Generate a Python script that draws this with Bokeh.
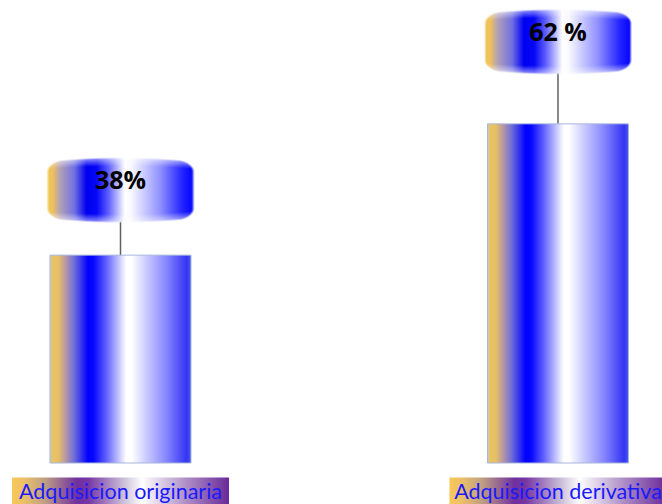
import numpy as np
from bokeh.plotting import figure
from bokeh.models import Range1d
from bokeh.embed import file_html
from bokeh.resources import INLINE
from bokeh.core.properties import value

# ---- data ----
categories = ["Adquisicion originaria", "Adquisicion derivativa"]
shares = [38, 62]
share_labels = ["38%", "62 %"]

# ---- layout (pixels) ----
W, H = 662, 504
X_STEP = 437.5          # px between category centres
X_FIRST = 120.0         # px of first category centre
BASE_PX = 462.5         # px of the zero line from the top
Y_SCALE = 5.47          # px per percentage point
BAR_PX = 141
BUBBLE_W_PX, BUBBLE_H_PX = 148, 66
BUBBLE_LIFT_PX = [32, 49]
LABEL_W_PX, LABEL_TOP_PX = 217, 477


def dx(n):
    return n / X_STEP


def dy(n):
    return n / Y_SCALE


def hex_rgb(h):
    h = h.lstrip("#")
    return [int(h[i:i + 2], 16) for i in (0, 2, 4)]


def gradient(stops, n):
    pos = (np.arange(n) + 0.5) / n
    sp = [s[0] for s in stops]
    cols = np.array([hex_rgb(s[1]) for s in stops], dtype=float)
    return np.stack([np.interp(pos, sp, cols[:, c]) for c in range(3)], axis=1)


def to_rgba(rgb, alpha):
    rows, cols = alpha.shape
    img = np.empty((rows, cols), dtype=np.uint32)
    view = img.view(dtype=np.uint8).reshape((rows, cols, 4))
    view[:, :, :3] = np.clip(rgb, 0, 255).astype(np.uint8)
    view[:, :, 3] = np.clip(alpha * 255, 0, 255).astype(np.uint8)
    return img


bar_stops = [(0.0, "#c8c8c8"), (0.02, "#ecc45c"), (0.06, "#e6c068"),
             (0.11, "#b898a4"), (0.17, "#7070d8"), (0.27, "#0000ff"),
             (0.31, "#0808ff"), (0.40, "#6262ff"), (0.54, "#ffffff"),
             (0.58, "#ffffff"), (0.69, "#c8c8ff"), (0.83, "#8484ff"),
             (0.97, "#3434f4"), (1.0, "#4a5cf0")]

bubble_stops = [(0.0, "#f2c24e"), (0.04, "#f0c25a"), (0.09, "#b4a2b4"),
                (0.19, "#7070e4"), (0.27, "#0000f2"), (0.34, "#0808f8"),
                (0.42, "#6262ff"), (0.53, "#ffffff"), (0.57, "#fafaff"),
                (0.65, "#d0d0ff"), (0.77, "#9090ff"), (0.92, "#2222ff"),
                (1.0, "#0000ff")]

label_stops = [(0.0, "#f8c858"), (0.05, "#eec266"), (0.15, "#c0a084"),
               (0.30, "#7030a0"), (0.35, "#7636a4"), (0.50, "#c4b4d4"),
               (0.60, "#ffffff"), (0.80, "#b090c8"), (1.0, "#6a2a9a")]

# bar fill: horizontal gradient, one row per pixel column
bar_rgb = np.repeat(gradient(bar_stops, BAR_PX)[None, :, :], 2, axis=0)
bar_img = to_rgba(bar_rgb, np.ones((2, BAR_PX)))

# value bubble: slightly arched top and bottom, rounded corners, soft rims
bw, bh = BUBBLE_W_PX, BUBBLE_H_PX
yy, xx = np.mgrid[0:bh, 0:bw].astype(float)
xx += 0.5
yy += 0.5
u = (xx - bw / 2) / (bw / 2)
arch = 4.0 * u ** 2
yy_s = (yy - bh / 2) * (bh / 2) / (bh / 2 - arch) + bh / 2
rx, ry = 16.0, 12.0
cx = np.clip(xx, rx, bw - rx)
cy = np.clip(yy_s, ry, bh - ry)
dist = np.sqrt(((xx - cx) / rx) ** 2 + ((yy_s - cy) / ry) ** 2)
alpha = np.clip((1.0 - dist) * 6.0, 0, 1)
rgb = np.repeat(gradient(bubble_stops, bw)[None, :, :], bh, axis=0)
edge = np.minimum(yy_s, bh - yy_s)
haze = np.clip(1.0 - edge / 9.0, 0, 1)[:, :, None] * 0.6
rgb = rgb * (1 - haze) + 255 * haze
bubble_img = to_rgba(rgb, alpha)

# category label background
lw = LABEL_W_PX
label_rgb = np.repeat(gradient(label_stops, lw)[None, :, :], 2, axis=0)
label_img = to_rgba(label_rgb, np.ones((2, lw)))

x_pos = list(range(len(categories)))

p = figure(width=W, height=H,
           x_range=Range1d(-X_FIRST / X_STEP, (W - X_FIRST) / X_STEP),
           y_range=Range1d(-(H - BASE_PX) / Y_SCALE, BASE_PX / Y_SCALE),
           x_axis_type=None, y_axis_type=None,
           output_backend="svg", toolbar_location=None, min_border=0)
p.grid.visible = False
p.outline_line_color = None
p.background_fill_color = "white"
p.border_fill_color = "white"

for i, v in enumerate(shares):
    xc = x_pos[i]
    # bar
    p.image_rgba(image=[bar_img], x=xc - dx(BAR_PX) / 2, y=0,
                 dw=dx(BAR_PX), dh=v)
    # bubble holding the value
    b_bottom = v + dy(BUBBLE_LIFT_PX[i])
    p.segment(x0=[xc], y0=[v], x1=[xc], y1=[b_bottom + dy(2)],
              line_color="#606060", line_width=1.5)
    p.image_rgba(image=[bubble_img], x=xc - dx(bw) / 2, y=b_bottom,
                 dw=dx(bw), dh=dy(bh))
    p.text(x=[xc], y=[b_bottom + dy(bh - 22)], text=[share_labels[i]],
           text_font=value("Open Sans"), text_font_style="bold",
           text_font_size="25px", text_color="black",
           text_align="center", text_baseline="middle")
    # category label
    top = -dy(LABEL_TOP_PX - BASE_PX)
    p.image_rgba(image=[label_img], x=xc - dx(lw) / 2, y=top - dy(34),
                 dw=dx(lw), dh=dy(34))
    p.text(x=[xc], y=[-dy(490 - BASE_PX)], text=[categories[i]],
           text_font=value("Lato"), text_font_size="21.5px",
           text_color="#1a1aff", text_align="center",
           text_baseline="middle")

# thin bar outline
p.vbar(x=x_pos, top=shares, bottom=0, width=dx(BAR_PX),
       fill_color=None, line_color="#a9b6dc", line_width=1)

open("out.html", "w").write(file_html(p, INLINE))
